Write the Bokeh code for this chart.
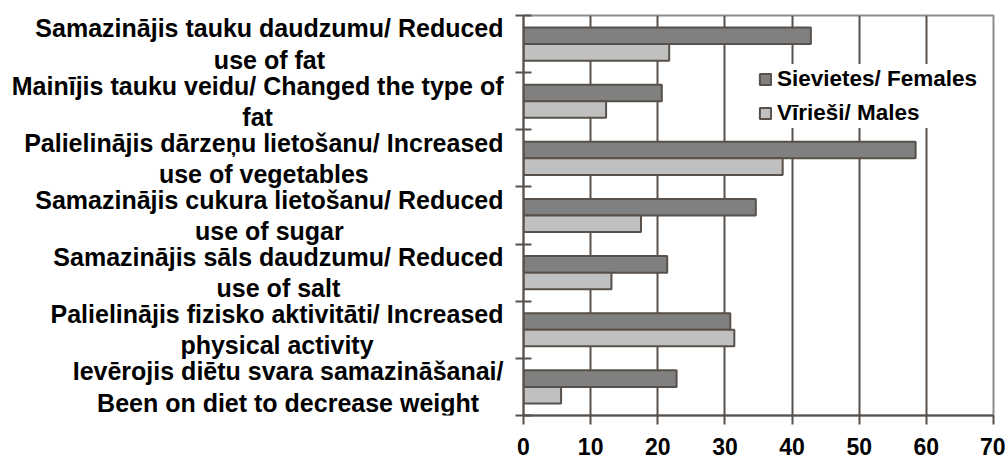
from bokeh.plotting import figure
from bokeh.layouts import row
from bokeh.models import (Range1d, FixedTicker, Legend, LegendItem, ColumnDataSource,
                          CustomLabelingPolicy)
from bokeh.embed import file_html
from bokeh.resources import INLINE
from bokeh.core.properties import value

categories = [
    "Samazinājis tauku daudzumu/ Reduced\nuse of fat",
    "Mainījis tauku veidu/ Changed the type of\nfat",
    "Palielinājis dārzeņu lietošanu/ Increased\nuse of vegetables",
    "Samazinājis cukura lietošanu/ Reduced\nuse of sugar",
    "Samazinājis sāls daudzumu/ Reduced\nuse of salt",
    "Palielinājis fizisko aktivitāti/ Increased\nphysical activity",
    "Ievērojis diētu svara samazināšanai/\nBeen on diet to decrease weight",
]
females = [42.8, 20.6, 58.4, 34.6, 21.4, 30.8, 22.8]
males = [21.7, 12.3, 38.6, 17.5, 13.1, 31.4, 5.6]
x_ticks = [0, 10, 20, 30, 40, 50, 60, 70]
series_names = ["Sievietes/ Females", "Vīrieši/ Males"]

FONT = "Liberation Sans"
INK = "#58504a"
F_FILL = "#808080"
M_FILL = "#c0c0c0"

n = len(categories)
centers = [n - i - 0.5 for i in range(n)]
bar_h = 0.29

src = ColumnDataSource(dict(
    cat=categories,
    yf=[c + bar_h / 2 for c in centers],
    ym=[c - bar_h / 2 for c in centers],
    yc=centers,
    fem=females,
    mal=males,
))

yr = Range1d(0, n)

# left panel with category labels
lp = figure(frame_width=511, frame_height=400, x_range=Range1d(0, 511), y_range=yr,
            min_border_left=0, min_border_right=0, min_border_top=15, min_border_bottom=46,
            toolbar_location=None, output_backend="svg",
            x_axis_location=None, y_axis_location=None)
lp.grid.visible = False
lp.outline_line_color = None
lp.text(x=503, y="yc", text="cat", source=src,
        anchor=value("center_right"), text_align="center", text_baseline="middle",
        text_font=value(FONT), text_font_style="bold", text_font_size="25px",
        text_line_height=1.12, text_color="black")

# chart
p = figure(frame_width=470, frame_height=400, x_range=Range1d(0, 70), y_range=yr,
           min_border_left=12, min_border_right=12, min_border_top=15, min_border_bottom=46,
           toolbar_location=None, output_backend="svg")

rf = p.hbar(y="yf", left=0, right="fem", height=bar_h, source=src,
            fill_color=F_FILL, line_color=INK, line_width=2)
rm = p.hbar(y="ym", left=0, right="mal", height=bar_h, source=src,
            fill_color=M_FILL, line_color=INK, line_width=2)

p.outline_line_color = "#8c8c8c"
p.outline_line_width = 2

p.ygrid.visible = False
p.xgrid.ticker = FixedTicker(ticks=x_ticks[1:-1])
p.xgrid.grid_line_color = INK
p.xgrid.grid_line_width = 2

xa = p.xaxis[0]
xa.ticker = FixedTicker(ticks=x_ticks)
xa.axis_line_color = INK
xa.axis_line_width = 2
xa.major_tick_line_color = INK
xa.major_tick_line_width = 2
xa.major_tick_in = 0
xa.major_tick_out = 9
xa.minor_tick_line_color = None
xa.major_label_text_font = FONT
xa.major_label_text_font_style = "bold"
xa.major_label_text_font_size = "23px"
xa.major_label_text_color = "black"
xa.major_label_standoff = 13

ya = p.yaxis[0]
ya.ticker = FixedTicker(ticks=list(range(n + 1)))
ya.axis_line_color = INK
ya.axis_line_width = 2
ya.major_tick_line_color = INK
ya.major_tick_line_width = 2
ya.major_tick_in = 8
ya.major_tick_out = 8
ya.minor_tick_line_color = None
ya.major_label_policy = CustomLabelingPolicy(code="return new Set()")
ya.major_label_text_font_size = "1px"
ya.major_label_standoff = 0

legend = Legend(items=[LegendItem(label=series_names[0], renderers=[rf]),
                       LegendItem(label=series_names[1], renderers=[rm])],
                location=(235, 287.5), orientation="vertical",
                glyph_width=14, glyph_height=14, label_height=30, spacing=4,
                label_standoff=5, padding=4, margin=0,
                label_text_font=FONT, label_text_font_style="bold",
                label_text_font_size="22.5px", label_text_color="black",
                background_fill_color="white", background_fill_alpha=1.0,
                border_line_color=None)
p.add_layout(legend)

layout = row(lp, p, spacing=0)
open("out.html", "w").write(file_html(layout, INLINE))
